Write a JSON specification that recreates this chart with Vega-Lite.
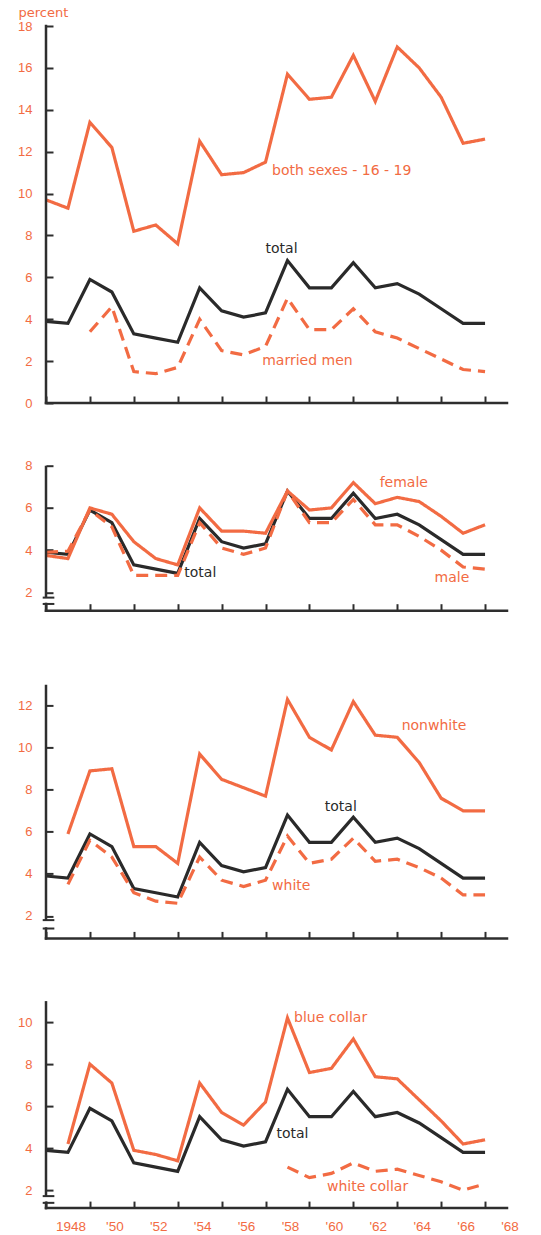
{
  "$schema": "https://vega.github.io/schema/vega-lite/v6.json",
  "padding": {"left": 17, "top": 6, "right": 5, "bottom": 5},
  "spacing": 62.7,
  "bounds": "flush",
  "config": {
    "view": {"stroke": null},
    "axis": {
      "domain": false, "tickColor": "#2e2e2e", "tickWidth": 2,
      "grid": false, "labelColor": "#f26b43", "labelFont": "Liberation Sans", "labelFontSize": 13,
      "tickSize": 7, "offset": -7, "title": null, "labelOverlap": false, "labelFlush": false
    },
    "text": {"font": "DejaVu Sans", "fontSize": 14}
  },
  "datasets": {
    "total": [
      {"year": 1947, "v": 3.9}, {"year": 1948, "v": 3.8}, {"year": 1949, "v": 5.9}, {"year": 1950, "v": 5.3},
      {"year": 1951, "v": 3.3}, {"year": 1952, "v": 3.1}, {"year": 1953, "v": 2.9}, {"year": 1954, "v": 5.5},
      {"year": 1955, "v": 4.4}, {"year": 1956, "v": 4.1}, {"year": 1957, "v": 4.3}, {"year": 1958, "v": 6.8},
      {"year": 1959, "v": 5.5}, {"year": 1960, "v": 5.5}, {"year": 1961, "v": 6.7}, {"year": 1962, "v": 5.5},
      {"year": 1963, "v": 5.7}, {"year": 1964, "v": 5.2}, {"year": 1965, "v": 4.5}, {"year": 1966, "v": 3.8},
      {"year": 1967, "v": 3.8}
    ],
    "yearlabels": [
      {"year": 1948, "lab": "1948"}, {"year": 1950, "lab": "'50"}, {"year": 1952, "lab": "'52"}, {"year": 1954, "lab": "'54"},
      {"year": 1956, "lab": "'56"}, {"year": 1958, "lab": "'58"}, {"year": 1960, "lab": "'60"}, {"year": 1962, "lab": "'62"},
      {"year": 1964, "lab": "'64"}, {"year": 1966, "lab": "'66"}, {"year": 1968, "lab": "'68"}
    ],
    "series": [
      {"p": 1, "s": "both sexes 16-19", "year": 1947, "v": 9.7}, {"p": 1, "s": "both sexes 16-19", "year": 1948, "v": 9.3},
      {"p": 1, "s": "both sexes 16-19", "year": 1949, "v": 13.4}, {"p": 1, "s": "both sexes 16-19", "year": 1950, "v": 12.2},
      {"p": 1, "s": "both sexes 16-19", "year": 1951, "v": 8.2}, {"p": 1, "s": "both sexes 16-19", "year": 1952, "v": 8.5},
      {"p": 1, "s": "both sexes 16-19", "year": 1953, "v": 7.6}, {"p": 1, "s": "both sexes 16-19", "year": 1954, "v": 12.5},
      {"p": 1, "s": "both sexes 16-19", "year": 1955, "v": 10.9}, {"p": 1, "s": "both sexes 16-19", "year": 1956, "v": 11.0},
      {"p": 1, "s": "both sexes 16-19", "year": 1957, "v": 11.5}, {"p": 1, "s": "both sexes 16-19", "year": 1958, "v": 15.7},
      {"p": 1, "s": "both sexes 16-19", "year": 1959, "v": 14.5}, {"p": 1, "s": "both sexes 16-19", "year": 1960, "v": 14.6},
      {"p": 1, "s": "both sexes 16-19", "year": 1961, "v": 16.6}, {"p": 1, "s": "both sexes 16-19", "year": 1962, "v": 14.4},
      {"p": 1, "s": "both sexes 16-19", "year": 1963, "v": 17.0}, {"p": 1, "s": "both sexes 16-19", "year": 1964, "v": 16.0},
      {"p": 1, "s": "both sexes 16-19", "year": 1965, "v": 14.6}, {"p": 1, "s": "both sexes 16-19", "year": 1966, "v": 12.4},
      {"p": 1, "s": "both sexes 16-19", "year": 1967, "v": 12.6},
      {"p": 1, "s": "married men", "year": 1949, "v": 3.4}, {"p": 1, "s": "married men", "year": 1950, "v": 4.6},
      {"p": 1, "s": "married men", "year": 1951, "v": 1.5}, {"p": 1, "s": "married men", "year": 1952, "v": 1.4},
      {"p": 1, "s": "married men", "year": 1953, "v": 1.7}, {"p": 1, "s": "married men", "year": 1954, "v": 4.0},
      {"p": 1, "s": "married men", "year": 1955, "v": 2.5}, {"p": 1, "s": "married men", "year": 1956, "v": 2.3},
      {"p": 1, "s": "married men", "year": 1957, "v": 2.7}, {"p": 1, "s": "married men", "year": 1958, "v": 5.0},
      {"p": 1, "s": "married men", "year": 1959, "v": 3.5}, {"p": 1, "s": "married men", "year": 1960, "v": 3.5},
      {"p": 1, "s": "married men", "year": 1961, "v": 4.5}, {"p": 1, "s": "married men", "year": 1962, "v": 3.4},
      {"p": 1, "s": "married men", "year": 1963, "v": 3.1}, {"p": 1, "s": "married men", "year": 1964, "v": 2.6},
      {"p": 1, "s": "married men", "year": 1965, "v": 2.1}, {"p": 1, "s": "married men", "year": 1966, "v": 1.6},
      {"p": 1, "s": "married men", "year": 1967, "v": 1.5},
      {"p": 2, "s": "female", "year": 1947, "v": 3.75}, {"p": 2, "s": "female", "year": 1948, "v": 3.6},
      {"p": 2, "s": "female", "year": 1949, "v": 6.0}, {"p": 2, "s": "female", "year": 1950, "v": 5.7},
      {"p": 2, "s": "female", "year": 1951, "v": 4.4}, {"p": 2, "s": "female", "year": 1952, "v": 3.6},
      {"p": 2, "s": "female", "year": 1953, "v": 3.3}, {"p": 2, "s": "female", "year": 1954, "v": 6.0},
      {"p": 2, "s": "female", "year": 1955, "v": 4.9}, {"p": 2, "s": "female", "year": 1956, "v": 4.9},
      {"p": 2, "s": "female", "year": 1957, "v": 4.8}, {"p": 2, "s": "female", "year": 1958, "v": 6.8},
      {"p": 2, "s": "female", "year": 1959, "v": 5.9}, {"p": 2, "s": "female", "year": 1960, "v": 6.0},
      {"p": 2, "s": "female", "year": 1961, "v": 7.2}, {"p": 2, "s": "female", "year": 1962, "v": 6.2},
      {"p": 2, "s": "female", "year": 1963, "v": 6.5}, {"p": 2, "s": "female", "year": 1964, "v": 6.3},
      {"p": 2, "s": "female", "year": 1965, "v": 5.6}, {"p": 2, "s": "female", "year": 1966, "v": 4.8},
      {"p": 2, "s": "female", "year": 1967, "v": 5.2},
      {"p": 2, "s": "male", "year": 1947, "v": 3.9}, {"p": 2, "s": "male", "year": 1948, "v": 3.95},
      {"p": 2, "s": "male", "year": 1949, "v": 5.9}, {"p": 2, "s": "male", "year": 1950, "v": 5.1},
      {"p": 2, "s": "male", "year": 1951, "v": 2.8}, {"p": 2, "s": "male", "year": 1952, "v": 2.8},
      {"p": 2, "s": "male", "year": 1953, "v": 2.8}, {"p": 2, "s": "male", "year": 1954, "v": 5.3},
      {"p": 2, "s": "male", "year": 1955, "v": 4.1}, {"p": 2, "s": "male", "year": 1956, "v": 3.8},
      {"p": 2, "s": "male", "year": 1957, "v": 4.1}, {"p": 2, "s": "male", "year": 1958, "v": 6.8},
      {"p": 2, "s": "male", "year": 1959, "v": 5.3}, {"p": 2, "s": "male", "year": 1960, "v": 5.3},
      {"p": 2, "s": "male", "year": 1961, "v": 6.4}, {"p": 2, "s": "male", "year": 1962, "v": 5.2},
      {"p": 2, "s": "male", "year": 1963, "v": 5.2}, {"p": 2, "s": "male", "year": 1964, "v": 4.65},
      {"p": 2, "s": "male", "year": 1965, "v": 4.0}, {"p": 2, "s": "male", "year": 1966, "v": 3.2},
      {"p": 2, "s": "male", "year": 1967, "v": 3.1},
      {"p": 3, "s": "nonwhite", "year": 1948, "v": 5.9}, {"p": 3, "s": "nonwhite", "year": 1949, "v": 8.9},
      {"p": 3, "s": "nonwhite", "year": 1950, "v": 9.0}, {"p": 3, "s": "nonwhite", "year": 1951, "v": 5.3},
      {"p": 3, "s": "nonwhite", "year": 1952, "v": 5.3}, {"p": 3, "s": "nonwhite", "year": 1953, "v": 4.5},
      {"p": 3, "s": "nonwhite", "year": 1954, "v": 9.7}, {"p": 3, "s": "nonwhite", "year": 1955, "v": 8.5},
      {"p": 3, "s": "nonwhite", "year": 1956, "v": 8.1}, {"p": 3, "s": "nonwhite", "year": 1957, "v": 7.7},
      {"p": 3, "s": "nonwhite", "year": 1958, "v": 12.3}, {"p": 3, "s": "nonwhite", "year": 1959, "v": 10.5},
      {"p": 3, "s": "nonwhite", "year": 1960, "v": 9.9}, {"p": 3, "s": "nonwhite", "year": 1961, "v": 12.2},
      {"p": 3, "s": "nonwhite", "year": 1962, "v": 10.6}, {"p": 3, "s": "nonwhite", "year": 1963, "v": 10.5},
      {"p": 3, "s": "nonwhite", "year": 1964, "v": 9.3}, {"p": 3, "s": "nonwhite", "year": 1965, "v": 7.6},
      {"p": 3, "s": "nonwhite", "year": 1966, "v": 7.0}, {"p": 3, "s": "nonwhite", "year": 1967, "v": 7.0},
      {"p": 3, "s": "white", "year": 1948, "v": 3.5}, {"p": 3, "s": "white", "year": 1949, "v": 5.6},
      {"p": 3, "s": "white", "year": 1950, "v": 4.8}, {"p": 3, "s": "white", "year": 1951, "v": 3.1},
      {"p": 3, "s": "white", "year": 1952, "v": 2.7}, {"p": 3, "s": "white", "year": 1953, "v": 2.6},
      {"p": 3, "s": "white", "year": 1954, "v": 4.8}, {"p": 3, "s": "white", "year": 1955, "v": 3.7},
      {"p": 3, "s": "white", "year": 1956, "v": 3.4}, {"p": 3, "s": "white", "year": 1957, "v": 3.7},
      {"p": 3, "s": "white", "year": 1958, "v": 5.8}, {"p": 3, "s": "white", "year": 1959, "v": 4.5},
      {"p": 3, "s": "white", "year": 1960, "v": 4.7}, {"p": 3, "s": "white", "year": 1961, "v": 5.7},
      {"p": 3, "s": "white", "year": 1962, "v": 4.6}, {"p": 3, "s": "white", "year": 1963, "v": 4.7},
      {"p": 3, "s": "white", "year": 1964, "v": 4.3}, {"p": 3, "s": "white", "year": 1965, "v": 3.8},
      {"p": 3, "s": "white", "year": 1966, "v": 3.0}, {"p": 3, "s": "white", "year": 1967, "v": 3.0},
      {"p": 4, "s": "blue collar", "year": 1948, "v": 4.2}, {"p": 4, "s": "blue collar", "year": 1949, "v": 8.0},
      {"p": 4, "s": "blue collar", "year": 1950, "v": 7.1}, {"p": 4, "s": "blue collar", "year": 1951, "v": 3.9},
      {"p": 4, "s": "blue collar", "year": 1952, "v": 3.7}, {"p": 4, "s": "blue collar", "year": 1953, "v": 3.4},
      {"p": 4, "s": "blue collar", "year": 1954, "v": 7.1}, {"p": 4, "s": "blue collar", "year": 1955, "v": 5.7},
      {"p": 4, "s": "blue collar", "year": 1956, "v": 5.1}, {"p": 4, "s": "blue collar", "year": 1957, "v": 6.2},
      {"p": 4, "s": "blue collar", "year": 1958, "v": 10.2}, {"p": 4, "s": "blue collar", "year": 1959, "v": 7.6},
      {"p": 4, "s": "blue collar", "year": 1960, "v": 7.8}, {"p": 4, "s": "blue collar", "year": 1961, "v": 9.2},
      {"p": 4, "s": "blue collar", "year": 1962, "v": 7.4}, {"p": 4, "s": "blue collar", "year": 1963, "v": 7.3},
      {"p": 4, "s": "blue collar", "year": 1964, "v": 6.3}, {"p": 4, "s": "blue collar", "year": 1965, "v": 5.3},
      {"p": 4, "s": "blue collar", "year": 1966, "v": 4.2}, {"p": 4, "s": "blue collar", "year": 1967, "v": 4.4},
      {"p": 4, "s": "white collar", "year": 1958, "v": 3.1}, {"p": 4, "s": "white collar", "year": 1959, "v": 2.6},
      {"p": 4, "s": "white collar", "year": 1960, "v": 2.8}, {"p": 4, "s": "white collar", "year": 1961, "v": 3.3},
      {"p": 4, "s": "white collar", "year": 1962, "v": 2.9}, {"p": 4, "s": "white collar", "year": 1963, "v": 3.0},
      {"p": 4, "s": "white collar", "year": 1964, "v": 2.7}, {"p": 4, "s": "white collar", "year": 1965, "v": 2.4},
      {"p": 4, "s": "white collar", "year": 1966, "v": 2.0}, {"p": 4, "s": "white collar", "year": 1967, "v": 2.3}
    ],
    "labels": [
      {"p": 1, "s": "both sexes 16-19", "label": "both sexes - 16 - 19", "year": 1957.3, "v": 11.1},
      {"p": 1, "s": "total", "label": "total", "year": 1957.0, "v": 7.33},
      {"p": 1, "s": "married men", "label": "married men", "year": 1956.85, "v": 2.0},
      {"p": 2, "s": "female", "label": "female", "year": 1962.2, "v": 7.18},
      {"p": 2, "s": "total", "label": "total", "year": 1953.3, "v": 2.91},
      {"p": 2, "s": "male", "label": "male", "year": 1964.7, "v": 2.7},
      {"p": 3, "s": "nonwhite", "label": "nonwhite", "year": 1963.2, "v": 11.05},
      {"p": 3, "s": "total", "label": "total", "year": 1959.7, "v": 7.2},
      {"p": 3, "s": "white", "label": "white", "year": 1957.3, "v": 3.4},
      {"p": 4, "s": "blue collar", "label": "blue collar", "year": 1958.3, "v": 10.2},
      {"p": 4, "s": "total", "label": "total", "year": 1957.5, "v": 4.66},
      {"p": 4, "s": "white collar", "label": "white collar", "year": 1959.8, "v": 2.16}
    ]
  },
  "vconcat": [
    {
      "width": 461, "height": 377,
      "layer": [
        {
          "data": {"name": "total"},
          "mark": {"type": "line", "color": "#2a2a2a", "strokeWidth": 3.2},
          "encoding": {
            "x": {"field": "year", "type": "quantitative", "scale": {"domain": [1947, 1968], "nice": false, "zero": false},
                  "axis": {"values": [1947,1948,1949,1950,1951,1952,1953,1954,1955,1956,1957,1958,1959,1960,1961,1962,1963,1964,1965,1966,1967,1968], "labels": false}},
            "y": {"field": "v", "type": "quantitative", "scale": {"domain": [0, 18], "nice": false, "zero": false},
                  "axis": {"values": [0,1,2,3,4,5,6,7,8,9,10,11,12,13,14,15,16,17,18], "labelExpr": "datum.value % 2 == 0 ? datum.label : ''", "labelPadding": 14,
                           "title": "percent", "titleAngle": 0, "titleAlign": "left", "titleBaseline": "middle", "titleX": -35, "titleY": -14,
                           "titleColor": "#f26b43", "titleFont": "DejaVu Sans", "titleFontSize": 13, "titleFontWeight": "normal"}}
          }
        },
        {
          "data": {"name": "series"},
          "transform": [{"filter": "datum.p == 1"}],
          "mark": {"type": "line"},
          "encoding": {
            "x": {"field": "year", "type": "quantitative"},
            "y": {"field": "v", "type": "quantitative"},
            "color": {"field": "s", "type": "nominal", "legend": null, "scale": {"domain": ["total","both sexes 16-19","married men","female","male","nonwhite","white","blue collar","white collar"], "range": ["#2a2a2a","#f26b43","#f26b43","#f26b43","#f26b43","#f26b43","#f26b43","#f26b43","#f26b43"]}},
            "strokeDash": {"field": "s", "type": "nominal", "legend": null, "scale": {"domain": ["total","both sexes 16-19","married men","female","male","nonwhite","white","blue collar","white collar"], "range": [[1,0],[1,0],[12,7],[1,0],[12,7],[1,0],[12,7],[1,0],[12,7]]}},
            "strokeWidth": {"field": "s", "type": "nominal", "legend": null, "scale": {"domain": ["total","both sexes 16-19","married men","female","male","nonwhite","white","blue collar","white collar"], "range": [3.2,3.2,3,2.4,3,3.2,3,3.2,3]}}
          }
        },
        {
          "data": {"name": "labels"},
          "transform": [{"filter": "datum.p == 1"}],
          "mark": {"type": "text", "align": "left", "baseline": "middle"},
          "encoding": {
            "x": {"field": "year", "type": "quantitative"},
            "y": {"field": "v", "type": "quantitative"},
            "text": {"field": "label"},
            "color": {"field": "s", "type": "nominal", "legend": null, "scale": {"domain": ["total","both sexes 16-19","married men","female","male","nonwhite","white","blue collar","white collar"], "range": ["#2a2a2a","#f26b43","#f26b43","#f26b43","#f26b43","#f26b43","#f26b43","#f26b43","#f26b43"]}}
          }
        },
        {"data": {"values": [{}]}, "mark": {"type": "rule", "color": "#2e2e2e", "strokeWidth": 2.5, "strokeCap": "square"}, "encoding": {"x": {"datum": 1947}, "y": {"datum": 0}, "y2": {"datum": 18}}},
        {"data": {"values": [{}]}, "mark": {"type": "rule", "color": "#2e2e2e", "strokeWidth": 2.5, "strokeCap": "square"}, "encoding": {"x": {"datum": 1947}, "x2": {"datum": 1968}, "y": {"datum": 0}}}
      ]
    },
    {
      "width": 461, "height": 145,
      "layer": [
        {
          "data": {"name": "total"},
          "mark": {"type": "line", "color": "#2a2a2a", "strokeWidth": 3.2},
          "encoding": {
            "x": {"field": "year", "type": "quantitative", "scale": {"domain": [1947, 1968], "nice": false, "zero": false},
                  "axis": {"values": [1947,1948,1949,1950,1951,1952,1953,1954,1955,1956,1957,1958,1959,1960,1961,1962,1963,1964,1965,1966,1967,1968], "labels": false}},
            "y": {"field": "v", "type": "quantitative", "scale": {"domain": [1.13, 8], "nice": false, "zero": false},
                  "axis": {"values": [2,3,4,5,6,7,8], "labelExpr": "datum.value % 2 == 0 ? datum.label : ''", "labelPadding": 14}}
          }
        },
        {
          "data": {"name": "series"},
          "transform": [{"filter": "datum.p == 2"}],
          "mark": {"type": "line"},
          "encoding": {
            "x": {"field": "year", "type": "quantitative"},
            "y": {"field": "v", "type": "quantitative"},
            "color": {"field": "s", "type": "nominal", "legend": null, "scale": {"domain": ["total","both sexes 16-19","married men","female","male","nonwhite","white","blue collar","white collar"], "range": ["#2a2a2a","#f26b43","#f26b43","#f26b43","#f26b43","#f26b43","#f26b43","#f26b43","#f26b43"]}},
            "strokeDash": {"field": "s", "type": "nominal", "legend": null, "scale": {"domain": ["total","both sexes 16-19","married men","female","male","nonwhite","white","blue collar","white collar"], "range": [[1,0],[1,0],[12,7],[1,0],[12,7],[1,0],[12,7],[1,0],[12,7]]}},
            "strokeWidth": {"field": "s", "type": "nominal", "legend": null, "scale": {"domain": ["total","both sexes 16-19","married men","female","male","nonwhite","white","blue collar","white collar"], "range": [3.2,3.2,3,2.4,3,3.2,3,3.2,3]}}
          }
        },
        {
          "data": {"name": "labels"},
          "transform": [{"filter": "datum.p == 2"}],
          "mark": {"type": "text", "align": "left", "baseline": "middle"},
          "encoding": {
            "x": {"field": "year", "type": "quantitative"},
            "y": {"field": "v", "type": "quantitative"},
            "text": {"field": "label"},
            "color": {"field": "s", "type": "nominal", "legend": null, "scale": {"domain": ["total","both sexes 16-19","married men","female","male","nonwhite","white","blue collar","white collar"], "range": ["#2a2a2a","#f26b43","#f26b43","#f26b43","#f26b43","#f26b43","#f26b43","#f26b43","#f26b43"]}}
          }
        },
        {"data": {"values": [{}]}, "mark": {"type": "rule", "color": "#2e2e2e", "strokeWidth": 2.5}, "encoding": {"x": {"datum": 1947}, "y": {"datum": 1.75}, "y2": {"datum": 8}}},
        {"data": {"values": [{}]}, "mark": {"type": "rule", "color": "#2e2e2e", "strokeWidth": 2.5, "strokeCap": "square"}, "encoding": {"x": {"datum": 1947}, "y": {"datum": 1.13}, "y2": {"datum": 1.45}}},
        {"data": {"values": [{}]}, "mark": {"type": "rule", "color": "#2e2e2e", "strokeWidth": 2}, "encoding": {"x": {"datum": 1946.85}, "x2": {"datum": 1947.38}, "y": {"datum": 1.75}}},
        {"data": {"values": [{}]}, "mark": {"type": "rule", "color": "#2e2e2e", "strokeWidth": 2}, "encoding": {"x": {"datum": 1946.85}, "x2": {"datum": 1947.38}, "y": {"datum": 1.45}}},
        {"data": {"values": [{}]}, "mark": {"type": "rule", "color": "#2e2e2e", "strokeWidth": 2.5, "strokeCap": "square"}, "encoding": {"x": {"datum": 1947}, "x2": {"datum": 1968}, "y": {"datum": 1.13}}}
      ]
    },
    {
      "width": 461, "height": 265,
      "layer": [
        {
          "data": {"name": "total"},
          "mark": {"type": "line", "color": "#2a2a2a", "strokeWidth": 3.2},
          "encoding": {
            "x": {"field": "year", "type": "quantitative", "scale": {"domain": [1947, 1968], "nice": false, "zero": false},
                  "axis": {"values": [1947,1948,1949,1950,1951,1952,1953,1954,1955,1956,1957,1958,1959,1960,1961,1962,1963,1964,1965,1966,1967,1968], "labels": false}},
            "y": {"field": "v", "type": "quantitative", "scale": {"domain": [0.93, 13.54], "nice": false, "zero": false},
                  "axis": {"values": [2,3,4,5,6,7,8,9,10,11,12,13], "labelExpr": "datum.value % 2 == 0 ? datum.label : ''", "labelPadding": 14}}
          }
        },
        {
          "data": {"name": "series"},
          "transform": [{"filter": "datum.p == 3"}],
          "mark": {"type": "line"},
          "encoding": {
            "x": {"field": "year", "type": "quantitative"},
            "y": {"field": "v", "type": "quantitative"},
            "color": {"field": "s", "type": "nominal", "legend": null, "scale": {"domain": ["total","both sexes 16-19","married men","female","male","nonwhite","white","blue collar","white collar"], "range": ["#2a2a2a","#f26b43","#f26b43","#f26b43","#f26b43","#f26b43","#f26b43","#f26b43","#f26b43"]}},
            "strokeDash": {"field": "s", "type": "nominal", "legend": null, "scale": {"domain": ["total","both sexes 16-19","married men","female","male","nonwhite","white","blue collar","white collar"], "range": [[1,0],[1,0],[12,7],[1,0],[12,7],[1,0],[12,7],[1,0],[12,7]]}},
            "strokeWidth": {"field": "s", "type": "nominal", "legend": null, "scale": {"domain": ["total","both sexes 16-19","married men","female","male","nonwhite","white","blue collar","white collar"], "range": [3.2,3.2,3,2.4,3,3.2,3,3.2,3]}}
          }
        },
        {
          "data": {"name": "labels"},
          "transform": [{"filter": "datum.p == 3"}],
          "mark": {"type": "text", "align": "left", "baseline": "middle"},
          "encoding": {
            "x": {"field": "year", "type": "quantitative"},
            "y": {"field": "v", "type": "quantitative"},
            "text": {"field": "label"},
            "color": {"field": "s", "type": "nominal", "legend": null, "scale": {"domain": ["total","both sexes 16-19","married men","female","male","nonwhite","white","blue collar","white collar"], "range": ["#2a2a2a","#f26b43","#f26b43","#f26b43","#f26b43","#f26b43","#f26b43","#f26b43","#f26b43"]}}
          }
        },
        {"data": {"values": [{}]}, "mark": {"type": "rule", "color": "#2e2e2e", "strokeWidth": 2.5}, "encoding": {"x": {"datum": 1947}, "y": {"datum": 1.8}, "y2": {"datum": 13}}},
        {"data": {"values": [{}]}, "mark": {"type": "rule", "color": "#2e2e2e", "strokeWidth": 2.5, "strokeCap": "square"}, "encoding": {"x": {"datum": 1947}, "y": {"datum": 0.93}, "y2": {"datum": 1.4}}},
        {"data": {"values": [{}]}, "mark": {"type": "rule", "color": "#2e2e2e", "strokeWidth": 2}, "encoding": {"x": {"datum": 1946.85}, "x2": {"datum": 1947.38}, "y": {"datum": 1.8}}},
        {"data": {"values": [{}]}, "mark": {"type": "rule", "color": "#2e2e2e", "strokeWidth": 2}, "encoding": {"x": {"datum": 1946.85}, "x2": {"datum": 1947.38}, "y": {"datum": 1.4}}},
        {"data": {"values": [{}]}, "mark": {"type": "rule", "color": "#2e2e2e", "strokeWidth": 2.5, "strokeCap": "square"}, "encoding": {"x": {"datum": 1947}, "x2": {"datum": 1968}, "y": {"datum": 0.93}}}
      ]
    },
    {
      "width": 461, "height": 207,
      "layer": [
        {
          "data": {"name": "total"},
          "mark": {"type": "line", "color": "#2a2a2a", "strokeWidth": 3.2},
          "encoding": {
            "x": {"field": "year", "type": "quantitative", "scale": {"domain": [1947, 1968], "nice": false, "zero": false},
                  "axis": {"values": [1947,1948,1949,1950,1951,1952,1953,1954,1955,1956,1957,1958,1959,1960,1961,1962,1963,1964,1965,1966,1967,1968], "labels": false}},
            "y": {"field": "v", "type": "quantitative", "scale": {"domain": [1.15, 11], "nice": false, "zero": false},
                  "axis": {"values": [2,3,4,5,6,7,8,9,10,11], "labelExpr": "datum.value % 2 == 0 ? datum.label : ''", "labelPadding": 14}}
          }
        },
        {
          "data": {"name": "series"},
          "transform": [{"filter": "datum.p == 4"}],
          "mark": {"type": "line"},
          "encoding": {
            "x": {"field": "year", "type": "quantitative"},
            "y": {"field": "v", "type": "quantitative"},
            "color": {"field": "s", "type": "nominal", "legend": null, "scale": {"domain": ["total","both sexes 16-19","married men","female","male","nonwhite","white","blue collar","white collar"], "range": ["#2a2a2a","#f26b43","#f26b43","#f26b43","#f26b43","#f26b43","#f26b43","#f26b43","#f26b43"]}},
            "strokeDash": {"field": "s", "type": "nominal", "legend": null, "scale": {"domain": ["total","both sexes 16-19","married men","female","male","nonwhite","white","blue collar","white collar"], "range": [[1,0],[1,0],[12,7],[1,0],[12,7],[1,0],[12,7],[1,0],[12,7]]}},
            "strokeWidth": {"field": "s", "type": "nominal", "legend": null, "scale": {"domain": ["total","both sexes 16-19","married men","female","male","nonwhite","white","blue collar","white collar"], "range": [3.2,3.2,3,2.4,3,3.2,3,3.2,3]}}
          }
        },
        {
          "data": {"name": "labels"},
          "transform": [{"filter": "datum.p == 4"}],
          "mark": {"type": "text", "align": "left", "baseline": "middle"},
          "encoding": {
            "x": {"field": "year", "type": "quantitative"},
            "y": {"field": "v", "type": "quantitative"},
            "text": {"field": "label"},
            "color": {"field": "s", "type": "nominal", "legend": null, "scale": {"domain": ["total","both sexes 16-19","married men","female","male","nonwhite","white","blue collar","white collar"], "range": ["#2a2a2a","#f26b43","#f26b43","#f26b43","#f26b43","#f26b43","#f26b43","#f26b43","#f26b43"]}}
          }
        },
        {
          "data": {"name": "yearlabels"},
          "mark": {"type": "text", "baseline": "top", "align": "center", "dy": 12, "dx": 3, "font": "Liberation Sans", "fontSize": 13.5, "color": "#f26b43"},
          "encoding": {
            "x": {"field": "year", "type": "quantitative"},
            "y": {"datum": 1.15},
            "text": {"field": "lab"}
          }
        },
        {"data": {"values": [{}]}, "mark": {"type": "rule", "color": "#2e2e2e", "strokeWidth": 2.5}, "encoding": {"x": {"datum": 1947}, "y": {"datum": 1.72}, "y2": {"datum": 11}}},
        {"data": {"values": [{}]}, "mark": {"type": "rule", "color": "#2e2e2e", "strokeWidth": 2.5, "strokeCap": "square"}, "encoding": {"x": {"datum": 1947}, "y": {"datum": 1.15}, "y2": {"datum": 1.4}}},
        {"data": {"values": [{}]}, "mark": {"type": "rule", "color": "#2e2e2e", "strokeWidth": 2}, "encoding": {"x": {"datum": 1946.85}, "x2": {"datum": 1947.38}, "y": {"datum": 1.72}}},
        {"data": {"values": [{}]}, "mark": {"type": "rule", "color": "#2e2e2e", "strokeWidth": 2}, "encoding": {"x": {"datum": 1946.85}, "x2": {"datum": 1947.38}, "y": {"datum": 1.4}}},
        {"data": {"values": [{}]}, "mark": {"type": "rule", "color": "#2e2e2e", "strokeWidth": 2.5, "strokeCap": "square"}, "encoding": {"x": {"datum": 1947}, "x2": {"datum": 1968}, "y": {"datum": 1.15}}}
      ]
    }
  ]
}
